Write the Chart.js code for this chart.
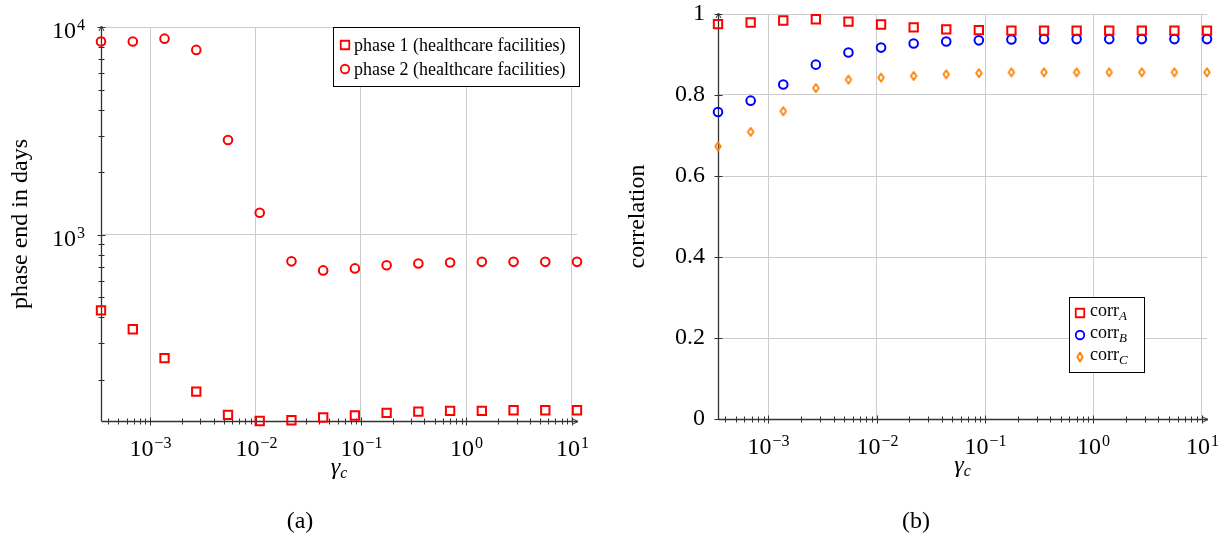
<!DOCTYPE html>
<html>
<head>
<meta charset="utf-8">
<script src="https://cdn.jsdelivr.net/npm/chart.js@4.4.1/dist/chart.umd.min.js"></script>
<style>
  body { margin: 0; background: #fff; width: 1224px; height: 540px; position: relative; overflow: hidden }
  .panel { position: absolute; top: 0; width: 612px; height: 540px }
  #panel_a { left: 0 }
  #panel_b { left: 612px }
</style>
</head>
<body>
<div class="panel" id="panel_a"><canvas id="chart_a" width="612" height="540"></canvas></div>
<div class="panel" id="panel_b"><canvas id="chart_b" width="612" height="540"></canvas></div>
<script>
// gamma_c values shared by both panels
const gamma_c = [0.000342, 0.000685, 0.00137, 0.00274, 0.00548, 0.01096, 0.02192, 0.04384, 0.08767, 0.1753, 0.3507, 0.7014, 1.403, 2.805, 5.611, 11.22]

// panel (a): phase end in days
const phase_1_days = [433, 351, 255, 176, 136, 127, 128, 132, 135, 139, 141, 142, 142, 143, 143, 143]
const phase_2_days = [8510, 8510, 8790, 7760, 2860, 1276, 745, 674, 689, 713, 728, 736, 741, 741, 741, 741]

// panel (b): correlations
const corr_a = [0.975, 0.979, 0.984, 0.987, 0.981, 0.974, 0.967, 0.962, 0.960, 0.959, 0.959, 0.959, 0.959, 0.959, 0.959, 0.959]
const corr_b = [0.758, 0.786, 0.826, 0.875, 0.905, 0.917, 0.927, 0.932, 0.935, 0.937, 0.938, 0.938, 0.938, 0.938, 0.938, 0.938]
const corr_c = [0.673, 0.709, 0.760, 0.817, 0.838, 0.843, 0.847, 0.851, 0.854, 0.856, 0.856, 0.856, 0.856, 0.856, 0.856, 0.856]

// tick labels: decades shown as 10 with an exponent
const x_decades = [0.001, 0.01, 0.1, 1, 10]
const x_tick_exponents = ["−3", "−2", "−1", "0", "1"]
const y_decades_a = [1000, 10000]
const y_tick_exponents_a = ["3", "4"]
const y_max_a = 10000
const y_tick_labels_b = ["0", "0.2", "0.4", "0.6", "0.8", "1"]

const label_phase_1 = "phase 1 (healthcare facilities)"
const label_phase_2 = "phase 2 (healthcare facilities)"
const y_title_a = "phase end in days"
const y_title_b = "correlation"
const corr_names = ["A", "B", "C"]

const serif = "'Liberation Serif', 'Times New Roman', serif"
const red = "#ff0000"
const blue = "#0000ff"
const orange = "#ff8000"
const grid_gray = "#cccccc"
const axis_color = "#333333"

function build_log_ticks(decades, min, max)
{
  const ticks = []
  const bases = [decades[0] / 10].concat(decades)
  for (const base of bases)
  {
    for (let m = 1; m < 10; m++)
    {
      const value = base * m
      if (value >= min && value <= max)
      {
        ticks.push({ value: value, major: m === 1 })
      }
    }
  }
  return ticks
}

function decade_index(value, decades)
{
  for (let i = 0; i < decades.length; i++)
  {
    if (Math.abs(Math.log10(value) - Math.log10(decades[i])) < 1e-6)
    {
      return i
    }
  }
  return -1
}

function make_diamond(color, w, h, line)
{
  const c = document.createElement("canvas")
  c.width = Math.ceil(w + 6)
  c.height = Math.ceil(h + 6)
  const g = c.getContext("2d")
  const cx = c.width / 2
  const cy = c.height / 2
  g.strokeStyle = color
  g.lineWidth = line
  g.lineJoin = "round"
  g.beginPath()
  g.moveTo(cx, cy - h / 2)
  g.lineTo(cx + w / 2, cy)
  g.lineTo(cx, cy + h / 2)
  g.lineTo(cx - w / 2, cy)
  g.closePath()
  g.stroke()
  return c
}

const diamond_plot = make_diamond(orange, 5.6, 8, 1.8)

function to_points(xs, ys)
{
  return xs.map((x, i) => ({ x: x, y: ys[i] }))
}

function draw_marker(ctx, style, color, x, y, size)
{
  ctx.save()
  ctx.strokeStyle = color
  ctx.lineWidth = 1.8
  ctx.lineJoin = "round"
  ctx.beginPath()
  if (style === "rect")
  {
    ctx.rect(x - size / 2, y - size / 2, size, size)
  }
  else if (style === "circle")
  {
    ctx.arc(x, y, size / 2, 0, Math.PI * 2)
  }
  else
  {
    ctx.moveTo(x, y - size / 2)
    ctx.lineTo(x + size * 0.3, y)
    ctx.lineTo(x, y + size / 2)
    ctx.lineTo(x - size * 0.3, y)
    ctx.closePath()
  }
  ctx.stroke()
  ctx.restore()
}

function line(ctx, x1, y1, x2, y2)
{
  ctx.beginPath()
  ctx.moveTo(x1, y1)
  ctx.lineTo(x2, y2)
  ctx.stroke()
}

// "10" followed by a raised exponent, anchored by align at (x, baseline)
function draw_power(ctx, exponent, x, baseline, align)
{
  ctx.font = "24px " + serif
  const base_w = ctx.measureText("10").width
  ctx.font = "16px " + serif
  const exp_w = ctx.measureText(exponent).width
  const total = base_w + 1 + exp_w
  let start = x - total / 2
  if (align === "right")
  {
    start = x - total
  }
  ctx.textAlign = "left"
  ctx.textBaseline = "alphabetic"
  ctx.fillStyle = "#000"
  ctx.font = "24px " + serif
  ctx.fillText("10", start, baseline)
  ctx.font = "16px " + serif
  ctx.fillText(exponent, start + base_w + 1, baseline - 8)
}

// axis lines, arrows, tick marks and decade labels in pgfplots style
const axes_plugin =
{
  id: "axes_plugin",
  beforeDatasetsDraw(chart)
  {
    const ctx = chart.ctx
    const area = chart.chartArea
    const x_scale = chart.scales.x
    const y_scale = chart.scales.y
    const left = Math.round(area.left) + 0.5
    const bottom = Math.round(area.bottom) + 0.5

    ctx.save()
    ctx.strokeStyle = axis_color
    ctx.lineWidth = 1

    for (const tick of x_scale.ticks)
    {
      const px = Math.round(x_scale.getPixelForValue(tick.value)) + 0.5
      const half = tick.major ? 4 : 3
      line(ctx, px, bottom - half, px, bottom + half)
      const i = decade_index(tick.value, x_decades)
      if (i >= 0)
      {
        draw_power(ctx, x_tick_exponents[i], px, area.bottom + 35, "center")
      }
    }
    for (const tick of y_scale.ticks)
    {
      const py = Math.round(y_scale.getPixelForValue(tick.value)) + 0.5
      const is_log = y_scale.type === "logarithmic"
      const half = (tick.major || !is_log) ? 4 : 3
      line(ctx, left - half, py, left + half, py)
      if (is_log)
      {
        const i = decade_index(tick.value, y_decades_a)
        if (i >= 0)
        {
          draw_power(ctx, y_tick_exponents_a[i], area.left - 16, py + 10, "right")
        }
      }
    }

    ctx.lineWidth = 1.3
    line(ctx, left, bottom, area.right + 1, bottom)
    line(ctx, left, bottom, left, area.top - 1)

    // arrow heads
    ctx.lineWidth = 1
    line(ctx, area.right + 1, bottom, area.right - 4, bottom - 2.5)
    line(ctx, area.right + 1, bottom, area.right - 4, bottom + 2.5)
    line(ctx, left, area.top - 1, left - 2.5, area.top + 4)
    line(ctx, left, area.top - 1, left + 2.5, area.top + 4)
    ctx.restore()
  }
}

function draw_titles(chart, y_title, caption, caption_x)
{
  const ctx = chart.ctx
  const area = chart.chartArea
  const cx = (area.left + area.right) / 2

  ctx.save()
  ctx.fillStyle = "#000"

  // x title: gamma with subscript c
  ctx.textBaseline = "alphabetic"
  ctx.font = "italic 24px " + serif
  const g_w = ctx.measureText("γ").width
  ctx.font = "italic 16px " + serif
  const c_w = ctx.measureText("c").width
  const start = cx - (g_w + c_w) / 2
  ctx.font = "italic 24px " + serif
  ctx.textAlign = "left"
  ctx.fillText("γ", start, area.bottom + 53)
  ctx.font = "italic 16px " + serif
  ctx.fillText("c", start + g_w, area.bottom + 57)

  // y title
  ctx.save()
  ctx.translate(area.left - 74, (area.top + area.bottom) / 2)
  ctx.rotate(-Math.PI / 2)
  ctx.font = "24px " + serif
  ctx.textAlign = "center"
  ctx.fillText(y_title, 0, 0)
  ctx.restore()

  // caption
  ctx.font = "24px " + serif
  ctx.textAlign = "center"
  ctx.fillText(caption, caption_x, 528)
  ctx.restore()
}

const decor_a =
{
  id: "decor_a",
  afterDraw(chart)
  {
    const ctx = chart.ctx
    const area = chart.chartArea
    draw_titles(chart, y_title_a, "(a)", 300)

    const bx = area.right - 244
    const by = area.top
    ctx.save()
    ctx.fillStyle = "#fff"
    ctx.fillRect(bx, by, 246, 59)
    ctx.strokeStyle = "#000"
    ctx.lineWidth = 1
    ctx.strokeRect(bx + 0.5, by + 0.5, 246, 59)

    const rows = [[label_phase_1, "rect"], [label_phase_2, "circle"]]
    rows.forEach((row, i) =>
    {
      const ry = by + 18 + i * 24
      draw_marker(ctx, row[1], red, bx + 12, ry, 8.5)
      ctx.fillStyle = "#000"
      ctx.font = "18px " + serif
      ctx.textAlign = "left"
      ctx.textBaseline = "middle"
      ctx.fillText(row[0], bx + 21, ry + 1)
    })
    ctx.restore()
  }
}

const decor_b =
{
  id: "decor_b",
  afterDraw(chart)
  {
    const ctx = chart.ctx
    const area = chart.chartArea
    draw_titles(chart, y_title_b, "(b)", 304)

    const bx = area.right - 138
    const by = area.top + 283
    ctx.save()
    ctx.fillStyle = "#fff"
    ctx.fillRect(bx, by, 75, 75)
    ctx.strokeStyle = "#000"
    ctx.lineWidth = 1
    ctx.strokeRect(bx + 0.5, by + 0.5, 75, 75)

    const styles = ["rect", "circle", "diamond"]
    const colors = [red, blue, orange]
    corr_names.forEach((name, i) =>
    {
      const ry = by + 16 + i * 22
      draw_marker(ctx, styles[i], colors[i], bx + 11, ry, styles[i] === "diamond" ? 9 : 8.5)
      ctx.fillStyle = "#000"
      ctx.textAlign = "left"
      ctx.textBaseline = "alphabetic"
      ctx.font = "18px " + serif
      ctx.fillText("corr", bx + 21, ry + 3)
      const w = ctx.measureText("corr").width
      ctx.font = "italic 13px " + serif
      ctx.fillText(name, bx + 21 + w, ry + 7)
    })
    ctx.restore()
  }
}

function x_scale_options(height)
{
  return {
    type: "logarithmic",
    position: "bottom",
    bounds: "data",
    min: gamma_c[0],
    max: gamma_c[gamma_c.length - 1],
    afterBuildTicks: scale =>
    {
      scale.ticks = build_log_ticks(x_decades, gamma_c[0], gamma_c[gamma_c.length - 1])
    },
    afterFit: scale =>
    {
      scale.height = height
    },
    border: { display: false },
    grid:
    {
      drawTicks: false,
      color: ctx => (ctx.tick && ctx.tick.major) ? grid_gray : "rgba(0,0,0,0)"
    },
    ticks: { display: false, autoSkip: false }
  }
}

const y_min_a = Math.min(...phase_1_days)

const chart_a = new Chart(document.getElementById("chart_a").getContext("2d"),
{
  type: "scatter",
  data:
  {
    datasets:
    [
      {
        label: label_phase_1,
        data: to_points(gamma_c, phase_1_days),
        pointStyle: "rect",
        pointRadius: 5.9,
        borderWidth: 2,
        borderColor: red,
        backgroundColor: "rgba(0,0,0,0)",
        clip: false
      },
      {
        label: label_phase_2,
        data: to_points(gamma_c, phase_2_days),
        pointStyle: "circle",
        pointRadius: 4.3,
        borderWidth: 2,
        borderColor: red,
        backgroundColor: "rgba(0,0,0,0)",
        clip: false
      }
    ]
  },
  options:
  {
    responsive: false,
    animation: false,
    events: [],
    layout: { padding: { left: 0, right: 35, top: 27, bottom: 0 } },
    plugins: { legend: { display: false }, tooltip: { enabled: false } },
    scales:
    {
      x: x_scale_options(119),
      y:
      {
        type: "logarithmic",
        bounds: "data",
        min: y_min_a,
        max: y_max_a,
        afterBuildTicks: scale =>
        {
          scale.ticks = build_log_ticks(y_decades_a, y_min_a, y_max_a)
        },
        afterFit: scale =>
        {
          scale.width = 101
        },
        border: { display: false },
        grid:
        {
          drawTicks: false,
          color: ctx => (ctx.tick && ctx.tick.major) ? grid_gray : "rgba(0,0,0,0)"
        },
        ticks: { display: false, autoSkip: false }
      }
    }
  },
  plugins: [axes_plugin, decor_a]
})

const chart_b = new Chart(document.getElementById("chart_b").getContext("2d"),
{
  type: "scatter",
  data:
  {
    datasets:
    [
      {
        label: "corrA",
        data: to_points(gamma_c, corr_a),
        pointStyle: "rect",
        pointRadius: 5.9,
        borderWidth: 2,
        borderColor: red,
        backgroundColor: "rgba(0,0,0,0)",
        clip: false
      },
      {
        label: "corrB",
        data: to_points(gamma_c, corr_b),
        pointStyle: "circle",
        pointRadius: 4.3,
        borderWidth: 2,
        borderColor: blue,
        backgroundColor: "rgba(0,0,0,0)",
        clip: false
      },
      {
        label: "corrC",
        data: to_points(gamma_c, corr_c),
        pointStyle: diamond_plot,
        pointRadius: 5,
        clip: false
      }
    ]
  },
  options:
  {
    responsive: false,
    animation: false,
    events: [],
    layout: { padding: { left: 0, right: 17, top: 14, bottom: 0 } },
    plugins: { legend: { display: false }, tooltip: { enabled: false } },
    scales:
    {
      x: x_scale_options(121),
      y:
      {
        type: "linear",
        min: 0,
        max: 1,
        afterFit: scale =>
        {
          scale.width = 106
        },
        border: { display: false },
        grid: { drawTicks: false, color: grid_gray },
        ticks:
        {
          stepSize: 0.2,
          padding: 13,
          color: "#000",
          font: { family: serif, size: 24, lineHeight: 0.05 },
          callback: (value, index) => y_tick_labels_b[index]
        }
      }
    }
  },
  plugins: [axes_plugin, decor_b]
})
</script>
</body>
</html>
